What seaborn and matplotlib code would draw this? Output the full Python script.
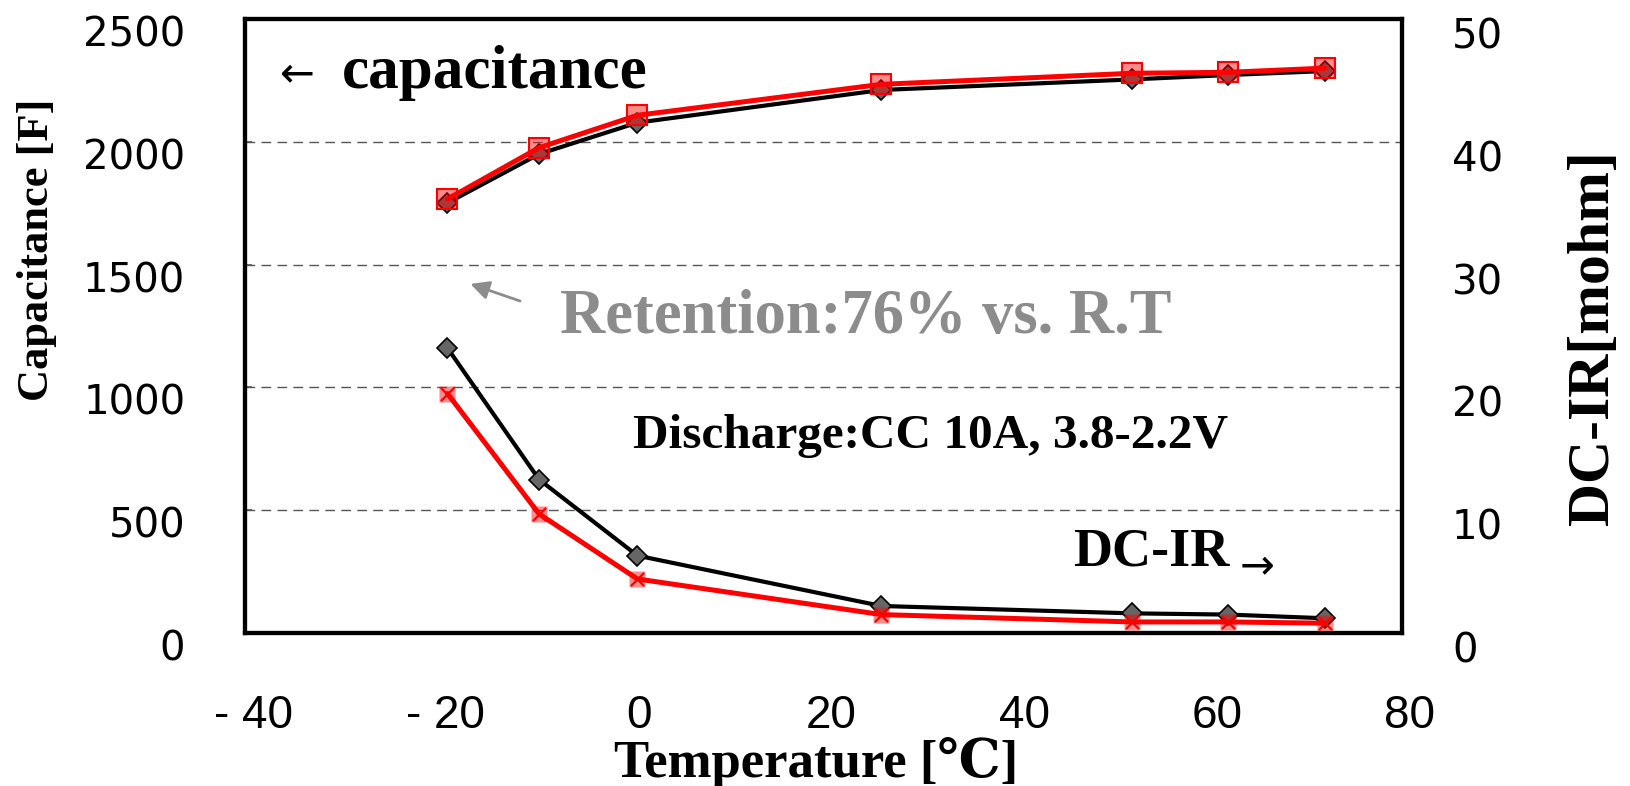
import numpy as np
import pandas as pd
import matplotlib
matplotlib.use("Agg")
import matplotlib.pyplot as plt
import seaborn as sns
from matplotlib.transforms import ScaledTranslation

# Measured values
temperature = [-19, -9.5, 0.7, 26, 52, 62, 72]
capacitance_a = [1751, 1950, 2078, 2211, 2254, 2272, 2288]
capacitance_b = [1767, 1976, 2108, 2234, 2279, 2283, 2300]
dcir_a = [23.2, 12.5, 6.3, 2.2, 1.6, 1.5, 1.2]
dcir_b = [19.5, 9.7, 4.4, 1.5, 0.9, 0.9, 0.8]

x_ticks = [-40, -20, 0, 20, 40, 60, 80]
x_tick_labels = ["- 40", "- 20", "0", "20", "40", "60", "80"]
cap_ticks = [0, 500, 1000, 1500, 2000, 2500]
ir_ticks = [0, 10, 20, 30, 40, 50]

df = pd.DataFrame({
    "temperature": temperature,
    "cap_a": capacitance_a,
    "cap_b": capacitance_b,
    "ir_a": dcir_a,
    "ir_b": dcir_b,
})

sns.set_theme(style="white")
plt.rcParams["font.family"] = ["Liberation Sans", "DejaVu Sans"]
plt.rcParams["text.color"] = "black"
plt.rcParams["axes.labelcolor"] = "black"
plt.rcParams["xtick.color"] = "black"
plt.rcParams["ytick.color"] = "black"
SERIF = ["Liberation Serif", "DejaVu Serif", "DejaVu Sans"]

W, H = 1630, 786
fig = plt.figure(figsize=(W / 100, H / 100), dpi=100)
L, R, T, B = 245, 1402, 19, 633
ax = fig.add_axes([L / W, 1 - B / H, (R - L) / W, (B - T) / H])
ax2 = ax.twinx()


def px(x, y):
    """Figure-fraction coordinates from pixel position (origin top-left)."""
    return x / W, 1 - y / H


grey_face = "#666666"
pink_face = (1.0, 0.0, 0.0, 0.45)

# Capacitance curves (left axis)
sns.lineplot(data=df, x="temperature", y="cap_a", ax=ax, color="black",
             lw=3.0, marker="D", markersize=10.5, markerfacecolor=grey_face,
             markeredgecolor="black", markeredgewidth=1.2, zorder=3)
sns.lineplot(data=df, x="temperature", y="cap_b", ax=ax, color="red",
             lw=3.6, marker="s", markersize=15, markerfacecolor=pink_face,
             markeredgecolor="red", markeredgewidth=1.5, zorder=4)

# DC-IR curves (right axis)
sns.lineplot(data=df, x="temperature", y="ir_a", ax=ax2, color="black",
             lw=3.0, marker="D", markersize=10.5, markerfacecolor=grey_face,
             markeredgecolor="black", markeredgewidth=1.2, zorder=3)
sns.lineplot(data=df, x="temperature", y="ir_b", ax=ax2, color="red",
             lw=3.6, marker="s", markersize=11, markerfacecolor=pink_face,
             markeredgecolor="none", zorder=4)
sns.scatterplot(data=df, x="temperature", y="ir_b", ax=ax2, marker="x",
                s=90, color="red", linewidth=1.6, zorder=5)

ax.set_xlim(-40, 80)
ax.set_ylim(0, 2500)
ax2.set_ylim(0, 50)

ax.set_xticks(x_ticks, x_tick_labels)
ax.set_yticks(cap_ticks, [str(v) for v in cap_ticks])
ax2.set_yticks(ir_ticks, [str(v) for v in ir_ticks])

ax.set_xlabel("")
ax.set_ylabel("")
ax2.set_ylabel("")

# Dashed horizontal grid
for v in cap_ticks[1:-1]:
    ax.axhline(v, color="#555555", lw=1.0, ls=(0, (7, 4.5)), zorder=1)

for a in (ax, ax2):
    for s in a.spines.values():
        s.set_color("black")
        s.set_linewidth(3.0)
    a.grid(False)

ax.tick_params(axis="x", direction="in", length=11, width=1.2,
               color="#555555", labelsize=33, pad=44, labelcolor="black")
ax.tick_params(axis="y", direction="in", length=5, width=1.2,
               color="#555555", labelsize=29, pad=43, labelcolor="black")
ax2.tick_params(axis="y", direction="in", length=0, labelsize=29, pad=36,
                labelcolor="black")

for lab in ax.get_yticklabels() + ax2.get_yticklabels():
    lab.set_family(["DejaVu Sans"])
for lab in ax.get_yticklabels():
    lab.set_transform(lab.get_transform() +
                      ScaledTranslation(0, -12 / 100, fig.dpi_scale_trans))
for lab in ax2.get_yticklabels():
    lab.set_transform(lab.get_transform() +
                      ScaledTranslation(0, -14 / 100, fig.dpi_scale_trans))
for lab in ax.get_xticklabels():
    lab.set_transform(lab.get_transform() +
                      ScaledTranslation(8 / 100, 0, fig.dpi_scale_trans))

# Axis titles
fig.text(*px(37, 250), "Capacitance [F]", rotation=90, ha="center",
         va="center", fontsize=32, fontweight="bold", family=SERIF)
fig.text(*px(1594, 338), "DC-IR[mohm]", rotation=90, ha="center",
         va="center", fontsize=43, fontweight="bold", family=SERIF)
fig.text(*px(816, 762), "Temperature [℃]", ha="center", va="center",
         fontsize=38, fontweight="bold", family=SERIF)

# Annotations
fig.text(*px(280, 86), "←", ha="left", va="baseline", fontsize=30,
         family=["DejaVu Sans"])
fig.text(*px(342, 88), "capacitance", ha="left", va="baseline",
         fontsize=44, fontweight="bold", family=SERIF)
fig.text(*px(560, 333), "Retention:76% vs. R.T", ha="left", va="baseline",
         fontsize=45, fontweight="bold", family=SERIF, color="#8c8c8c")
fig.text(*px(633, 448), "Discharge:CC 10A, 3.8-2.2V", ha="left",
         va="baseline", fontsize=35.5, fontweight="bold", family=SERIF)
fig.text(*px(1073, 565), "DC-IR", ha="left", va="baseline", fontsize=39,
         fontweight="bold", family=SERIF)
fig.text(*px(1240, 578), "→", ha="left", va="baseline", fontsize=30,
         family=["DejaVu Sans"])

# Arrow pointing to the low-temperature capacitance point
ax.annotate("", xy=(-16.9, 1425), xytext=(-11.2, 1348),
            arrowprops=dict(arrowstyle="-|>", color="#8c8c8c", lw=2.0,
                            mutation_scale=28))

fig.savefig("out.png", dpi=100)
